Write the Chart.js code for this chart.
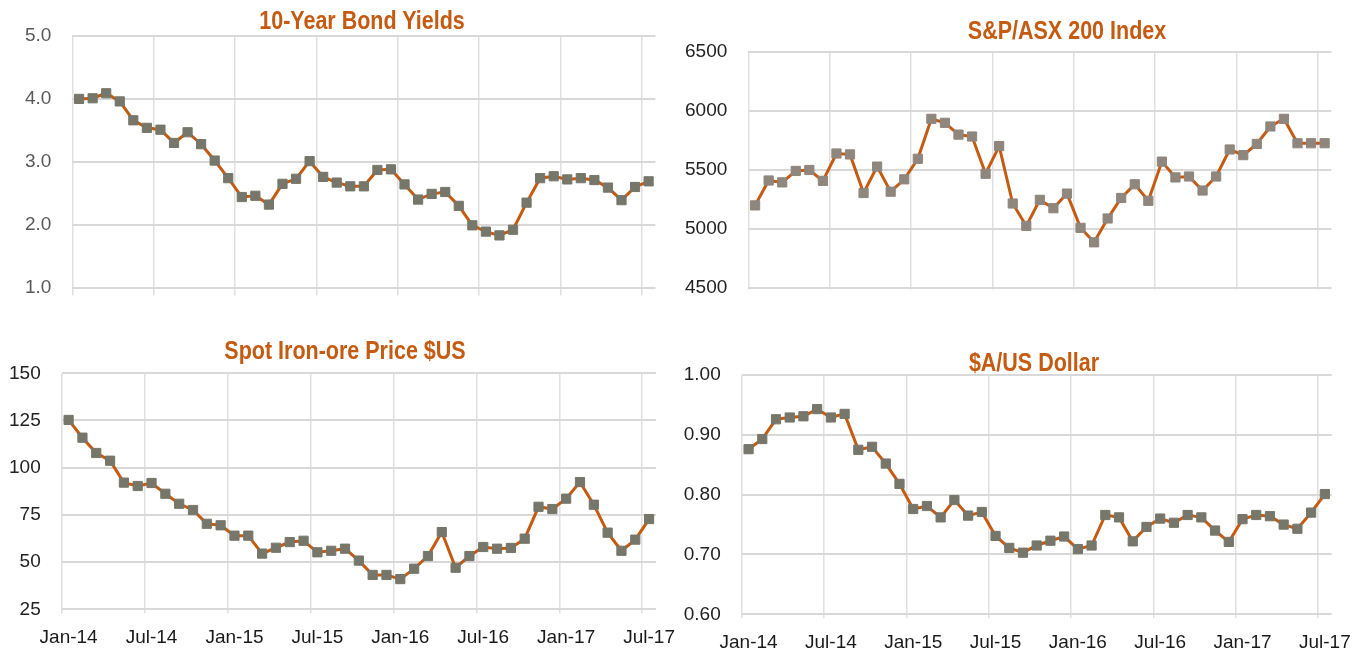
<!DOCTYPE html>
<html>
<head>
<meta charset="utf-8">
<title>Market indicators</title>
<script src="https://cdn.jsdelivr.net/npm/chart.js@4.4.1/dist/chart.umd.min.js"></script>
<style>
  body { margin: 0; background: #fff; width: 1365px; height: 653px; overflow: hidden; position: relative;
         font-family: "Liberation Sans", Arial, sans-serif; }
  canvas { position: absolute; }
  .title { position: absolute; color: #C55A11; font-weight: bold; font-size: 25px; line-height: 25px;
           white-space: nowrap; transform: translateX(-50%) scaleX(0.86); }
</style>
</head>
<body>
<canvas id="bond" width="680" height="320" style="left:0; top:0;"></canvas>
<canvas id="asx" width="685" height="320" style="left:680px; top:0;"></canvas>
<canvas id="ore" width="692" height="333" style="left:0; top:320px;"></canvas>
<canvas id="aud" width="685" height="333" style="left:680px; top:320px;"></canvas>

<div class="title" style="left:362px; top:8px;">10-Year Bond Yields</div>
<div class="title" style="left:1067px; top:18px;">S&amp;P/ASX 200 Index</div>
<div class="title" style="left:345px; top:338px;">Spot Iron-ore Price $US</div>
<div class="title" style="left:1034px; top:350px;">$A/US Dollar</div>

<script>
// monthly categories Jan-14 .. Jul-17
const months = ['Jan', 'Feb', 'Mar', 'Apr', 'May', 'Jun', 'Jul', 'Aug', 'Sep', 'Oct', 'Nov', 'Dec'];
const dates = [];
for (let yr = 14; yr <= 17; yr++) {
    for (let m = 0; m < 12; m++) {
        if (yr < 17 || m < 7) dates.push(months[m] + '-' + yr);
    }
}

// 10-year bond yield (%)
const bondYields = [4.00, 4.01, 4.09, 3.96, 3.66, 3.54, 3.51, 3.30, 3.47, 3.28,
                    3.02, 2.74, 2.44, 2.46, 2.32, 2.65, 2.73, 3.01, 2.76, 2.67,
                    2.61, 2.61, 2.87, 2.88, 2.64, 2.40, 2.49, 2.52, 2.30, 1.99,
                    1.89, 1.83, 1.92, 2.35, 2.74, 2.77, 2.72, 2.74, 2.71, 2.59,
                    2.39, 2.60, 2.69];

// S&P/ASX 200 index level
const asx200 = [5197, 5408, 5392, 5489, 5497, 5405, 5637, 5629, 5302, 5526,
                5313, 5418, 5592, 5931, 5897, 5797, 5781, 5465, 5700, 5213,
                5023, 5244, 5173, 5297, 5007, 4884, 5086, 5260, 5376, 5236,
                5568, 5434, 5442, 5323, 5442, 5671, 5623, 5718, 5866, 5931,
                5724, 5724, 5724];

// spot iron-ore price, $US/t
const ironOre = [125.3, 115.9, 107.8, 103.7, 92.1, 90.3, 91.9, 86.2, 80.9, 77.6,
                 70.3, 69.5, 64.0, 64.0, 54.5, 57.6, 60.6, 61.3, 55.2, 56.0,
                 57.1, 50.8, 43.2, 43.2, 41.0, 46.5, 53.2, 65.9, 47.0, 53.2,
                 58.0, 57.1, 57.5, 62.4, 79.3, 78.1, 83.6, 92.4, 80.4, 65.6,
                 56.0, 61.9, 72.8];

// $A in US dollars
const audUsd = [0.876, 0.893, 0.926, 0.929, 0.931, 0.943, 0.929, 0.935, 0.875, 0.880,
                0.852, 0.818, 0.776, 0.781, 0.762, 0.791, 0.765, 0.771, 0.731, 0.711,
                0.703, 0.715, 0.723, 0.730, 0.709, 0.715, 0.766, 0.762, 0.722, 0.746,
                0.760, 0.753, 0.766, 0.762, 0.740, 0.721, 0.759, 0.766, 0.764, 0.750,
                0.743, 0.770, 0.801];

Chart.defaults.font.family = '"Liberation Sans", Arial, sans-serif';

function makeChart(id, cfg) {
    return new Chart(document.getElementById(id), {
        type: 'line',
        data: {
            labels: dates,
            datasets: [{
                data: cfg.values,
                borderColor: '#C55A11',
                borderWidth: 3,
                tension: 0,
                pointStyle: 'rect',
                pointRadius: 6.5,
                pointBorderWidth: 1,
                pointBackgroundColor: cfg.marker,
                pointBorderColor: cfg.marker
            }]
        },
        options: {
            responsive: false,
            animation: false,
            layout: { padding: cfg.padding },
            plugins: { legend: { display: false }, tooltip: { enabled: false } },
            scales: {
                x: {
                    offset: true,
                    border: { display: false },
                    grid: {
                        offset: true,
                        lineWidth: 1.5,
                        tickLength: cfg.tickLength,
                        // only every 6th month gets a gridline
                        color: (c) => c.index % 6 === 0 ? '#e0e0e0' : 'rgba(0,0,0,0)'
                    },
                    ticks: {
                        display: cfg.showX,
                        autoSkip: false,
                        maxRotation: 0,
                        padding: 13,
                        color: '#1a1a1a',
                        font: { size: 19 },
                        callback: (v, i) => i % 6 === 0 ? dates[i] : ''
                    },
                    afterFit: (s) => { s.height = cfg.xHeight; }
                },
                y: {
                    min: cfg.min,
                    max: cfg.max,
                    border: { display: false },
                    grid: { drawTicks: false, lineWidth: 2, color: '#d9d9d9' },
                    ticks: {
                        stepSize: cfg.step,
                        padding: 21,
                        color: cfg.labelColor,
                        font: { size: 19 },
                        callback: (v) => v.toFixed(cfg.decimals)
                    },
                    afterFit: (s) => { s.width = cfg.yWidth; }
                }
            }
        }
    });
}

makeChart('bond', {
    values: bondYields, min: 1, max: 5, step: 1, decimals: 1,
    marker: '#76766a', labelColor: '#595959',
    showX: false, tickLength: 8, xHeight: 10, yWidth: 72.3,
    padding: { left: 0, top: 36, right: 24.6, bottom: 6 }
});

makeChart('asx', {
    values: asx200, min: 4500, max: 6500, step: 500, decimals: 0,
    marker: '#8f867e', labelColor: '#222',
    showX: false, tickLength: 2, xHeight: 10, yWidth: 68.3,
    padding: { left: 0, top: 51.7, right: 33.6, bottom: 5 }
});

makeChart('ore', {
    values: ironOre, min: 25, max: 150, step: 25, decimals: 0,
    marker: '#76766a', labelColor: '#222',
    showX: true, tickLength: 4, xHeight: 42, yWidth: 61.7,
    padding: { left: 0, top: 53.3, right: 36, bottom: 1.7 }
});

makeChart('aud', {
    values: audUsd, min: 0.6, max: 1.0, step: 0.1, decimals: 2,
    marker: '#76766a', labelColor: '#222',
    showX: true, tickLength: 4, xHeight: 38.7, yWidth: 61.7,
    padding: { left: 0, top: 55, right: 33.3, bottom: 0 }
});
</script>
</body>
</html>
